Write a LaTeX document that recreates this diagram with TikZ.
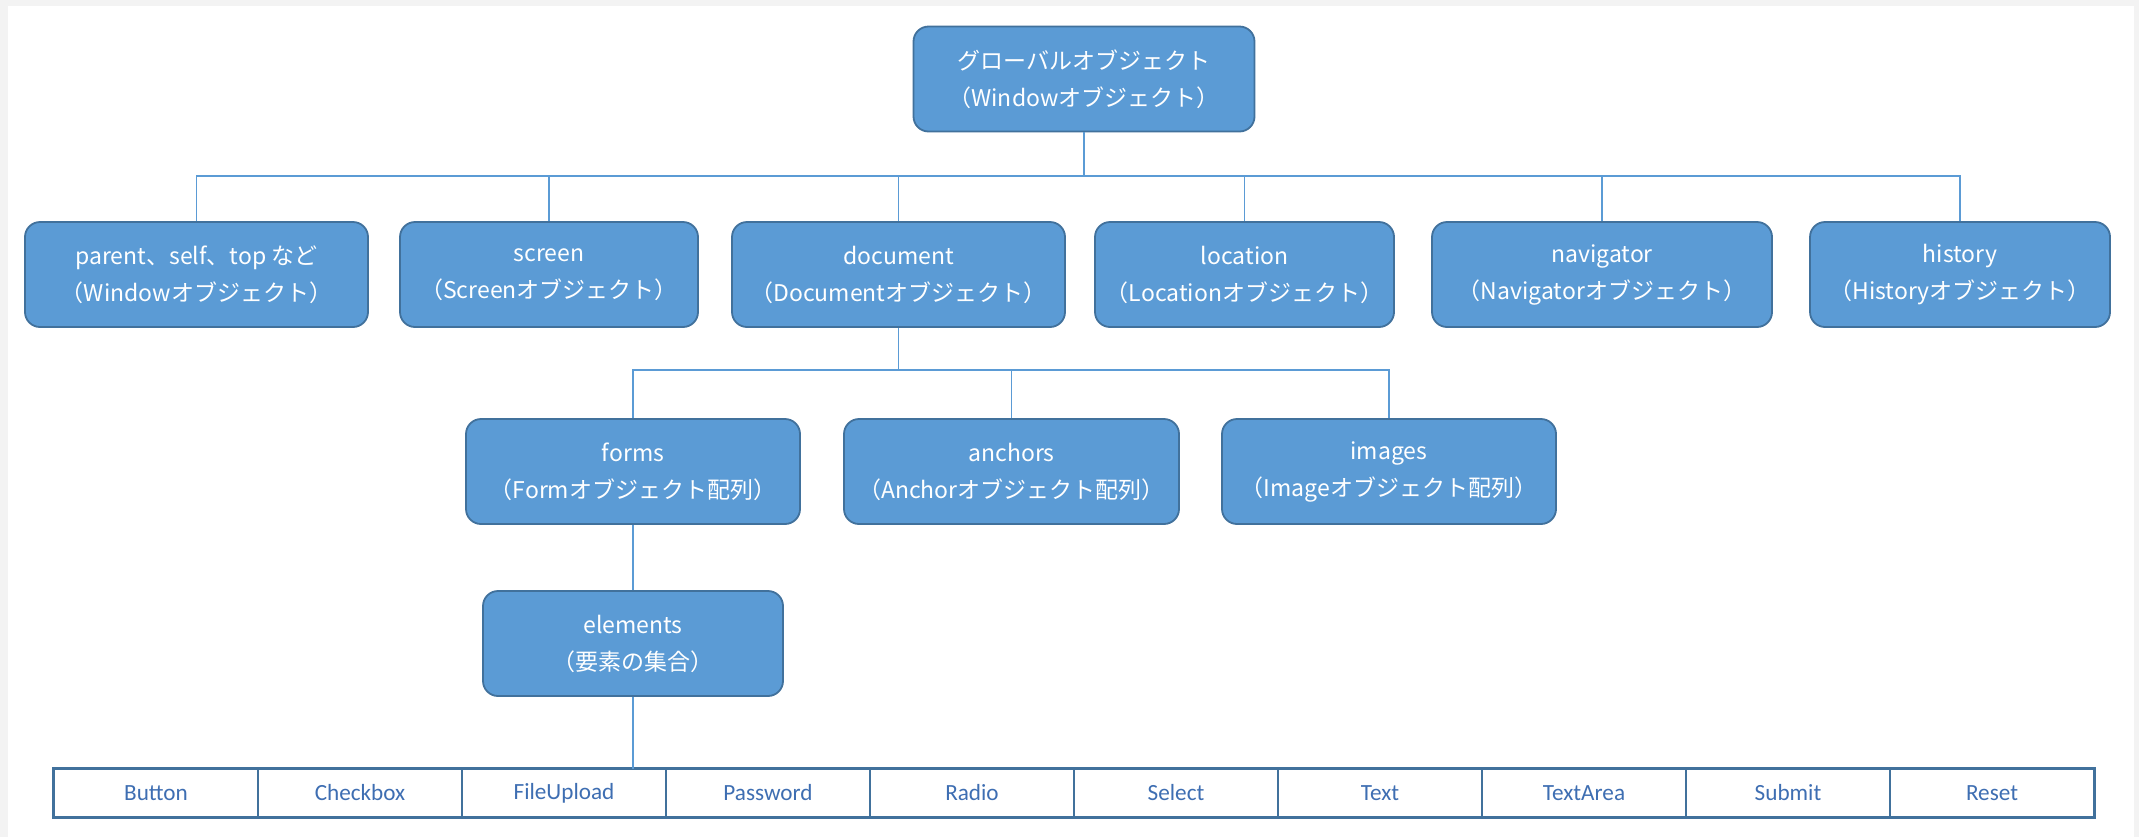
\documentclass[tikz,border=0pt]{standalone}
\usepackage{fontspec}
\newfontfamily\jpfont{Noto Sans CJK JP}
\newfontfamily\calfont{Carlito}
\definecolor{boxfill}{HTML}{5B9BD5}
\definecolor{boxedge}{HTML}{41719C}
\definecolor{linecol}{HTML}{5B9BD5}
\definecolor{tabtext}{RGB}{62,110,178}
\definecolor{bggray}{HTML}{F3F3F3}
\tikzset{
  objbox/.style={draw=boxedge, line width=0.9pt, fill=boxfill, rounded corners=7.5pt,
    text=white, align=center, minimum height=52.5pt, inner sep=0pt,
    font=\jpfont\fontsize{11.5}{18.5}\selectfont,
    execute at begin node={\rule{0pt}{17pt}}},
  conn/.style={draw=linecol, line width=0.9pt},
  cell/.style={draw=boxedge, line width=0.8pt, minimum width=102pt, minimum height=23.5pt,
    inner sep=0pt, text=tabtext, font=\calfont\fontsize{11.6}{13}\selectfont},
}
\begin{document}
\begin{tikzpicture}[x=0.5pt,y=-0.5pt]
\fill[bggray] (0,0) rectangle (2139,837);
\fill[white] (8,6) rectangle (2134,837);
\useasboundingbox (0,0) rectangle (2139,837);
% root
\node[objbox, minimum width=170.5pt] (root) at (1084,79) {グローバルオブジェクト\\（Windowオブジェクト）};
% level 1
\node[objbox, minimum width=171.5pt] (par) at (196.5,274.5) {parent、self、top など\\（Windowオブジェクト）};
\node[objbox, minimum width=149pt] (scr) at (549,274.5) {screen\\（Screenオブジェクト）};
\node[objbox, minimum width=166.5pt] (doc) at (898.5,274.5) {document\\（Documentオブジェクト）};
\node[objbox, minimum width=149.5pt] (loc) at (1244.5,274.5) {location\\（Locationオブジェクト）};
\node[objbox, minimum width=170pt] (nav) at (1602,274.5) {navigator\\（Navigatorオブジェクト）};
\node[objbox, minimum width=150pt] (his) at (1960,274.5) {history\\（Historyオブジェクト）};
% level 2
\node[objbox, minimum width=167pt] (frm) at (633,471.5) {forms\\（Formオブジェクト配列）};
\node[objbox, minimum width=167.5pt] (anc) at (1011.5,471.5) {anchors\\（Anchorオブジェクト配列）};
\node[objbox, minimum width=167pt] (img) at (1389,471.5) {images\\（Imageオブジェクト配列）};
% level 3
\node[objbox, minimum width=150pt] (elm) at (633,643.5) {elements\\（要素の集合）};
% table
\foreach \t [count=\i] in {Button,Checkbox,FileUpload,Password,Radio,Select,Text,TextArea,Submit,Reset}{
  \node[cell] (c\i) at ({54+204*(\i-0.5)},793) {\t};
}
\draw[boxedge, line width=1.5pt] (c1.north west) rectangle (c10.south east);
% connectors
\coordinate (busA) at (0,176);
\coordinate (busB) at (0,370);
\draw[conn] (root.south) -- (root.south |- busA);
\foreach \n in {par,scr,doc,loc,nav,his}{
  \draw[conn] (root.south |- busA) -| (\n.north);
}
\draw[conn] (doc.south) -- (doc.south |- busB);
\foreach \n in {frm,anc,img}{
  \draw[conn] (doc.south |- busB) -| (\n.north);
}
\draw[conn] (frm.south) -- (elm.north);
\draw[conn] (elm.south) -- (elm.south |- c3.north);
\end{tikzpicture}
\end{document}
